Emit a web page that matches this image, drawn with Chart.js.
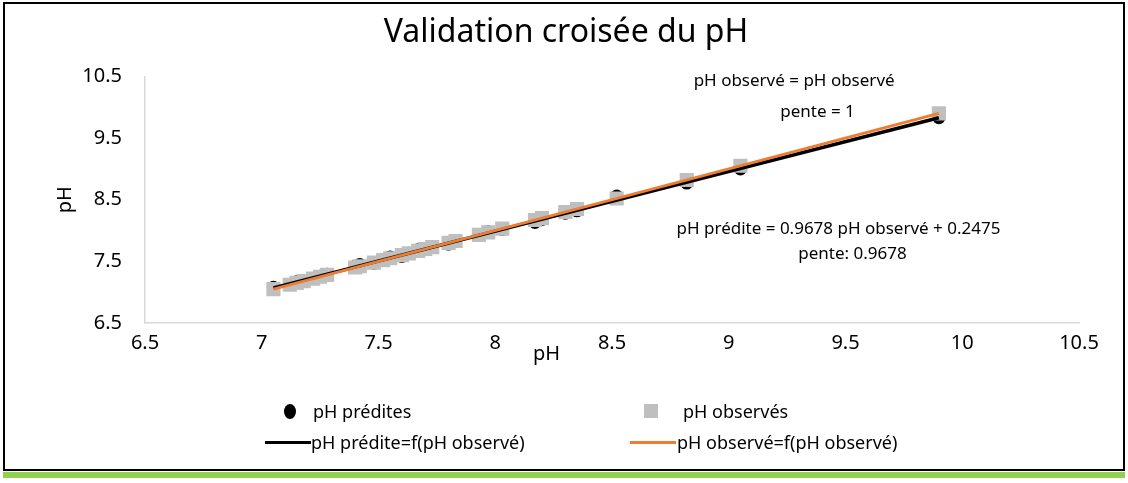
<!DOCTYPE html>
<html lang="fr">
  <head>
    <meta charset="UTF-8" />
    <title>Validation croisée du pH</title>
    <script src="https://cdn.jsdelivr.net/npm/chart.js"></script>
    <style>
      body { margin: 0; background: #fff; font-family: "Noto Sans", sans-serif; }
      .wrap { position: relative; width: 1128px; height: 483px; overflow: hidden; }
      #chart { position: absolute; left: 0; top: 0; }
      .frame { position: absolute; left: 3px; top: 2px; width: 1118px; height: 465px; border: 2px solid #000; pointer-events: none; }
      .green { position: absolute; left: 3px; top: 472px; width: 1122px; height: 6px; background: #92d050; }
      .leg { position: absolute; font-size: 18px; color: #000; white-space: nowrap; line-height: 20px; }
      .mk { position: absolute; }
    </style>
  </head>
  <body>
    <div class="wrap">
      <canvas id="chart" width="1128" height="483"></canvas>
      <div class="frame"></div>
      <div class="green"></div>

      <!-- legende 2x2 comme dans Excel -->
      <div class="mk" style="left:284px;top:404px;width:12px;height:15px;border-radius:50%;background:#000"></div>
      <div class="leg" style="left:313px;top:401px">pH prédites</div>
      <div class="mk" style="left:644px;top:404px;width:14px;height:14px;background:#bfbfbf"></div>
      <div class="leg" style="left:683px;top:401px">pH observés</div>
      <div class="mk" style="left:265px;top:441px;width:46px;height:3px;background:#000"></div>
      <div class="leg" style="left:311px;top:432px">pH prédite=f(pH observé)</div>
      <div class="mk" style="left:630px;top:441px;width:46px;height:3px;background:#ed7d31"></div>
      <div class="leg" style="left:677px;top:432px">pH observé=f(pH observé)</div>
    </div>

    <script>
      // valeurs
      const phObserve = [7.05, 7.12, 7.15, 7.18, 7.22, 7.25, 7.28, 7.40, 7.42, 7.48, 7.52,
        7.55, 7.60, 7.63, 7.67, 7.70, 7.73, 7.80, 7.83, 7.93, 7.97, 8.03, 8.17, 8.20,
        8.30, 8.35, 8.52, 8.82, 9.05, 9.90];
      const phPredit = [7.08, 7.13, 7.17, 7.19, 7.22, 7.26, 7.29, 7.42, 7.45, 7.47, 7.53,
        7.57, 7.58, 7.63, 7.69, 7.70, 7.74, 7.78, 7.82, 7.92, 7.98, 8.02, 8.13, 8.18,
        8.28, 8.32, 8.56, 8.77, 9.00, 9.83];
      // extrémités des droites de tendance
      const trendX = [7.05, 9.90];
      const trendPredit = [7.07, 9.83];
      const trendObserve = [7.05, 9.90];
      const xTicks = [6.5, 7, 7.5, 8, 8.5, 9, 9.5, 10, 10.5];
      const yTicks = [6.5, 7.5, 8.5, 9.5, 10.5];

      const toPts = (xs, ys) => xs.map((x, i) => ({ x: x, y: ys[i] }));

      const font = "'Noto Sans', sans-serif";

      // textes des équations + titre de l'axe x (placés en coordonnées des données)
      const annotations = {
        id: "annotations",
        afterDraw(chart) {
          const c = chart.ctx;
          const xs = chart.scales.x;
          const ys = chart.scales.y;
          c.save();
          c.fillStyle = "#000";
          c.textAlign = "center";
          c.textBaseline = "middle";
          c.font = "17px " + font;
          c.fillText("pH observé = pH observé", xs.getPixelForValue(9.28), ys.getPixelForValue(10.42));
          c.fillText("pente = 1", xs.getPixelForValue(9.38), ys.getPixelForValue(9.92));
          c.fillText("pH prédite = 0.9678 pH observé + 0.2475", xs.getPixelForValue(9.47), ys.getPixelForValue(8.03));
          c.fillText("pente: 0.9678", xs.getPixelForValue(9.53), ys.getPixelForValue(7.61));
          c.font = "20px " + font;
          c.fillText("pH", xs.getPixelForValue(8.22), ys.bottom + 31);
          c.restore();
        },
      };

      new Chart(document.getElementById("chart"), {
        type: "scatter",
        data: {
          datasets: [
            {
              label: "pH observé=f(pH observé)",
              type: "line",
              data: toPts(trendX, trendObserve),
              borderColor: "#ed7d31",
              borderWidth: 3,
              pointRadius: 0,
              order: 0,
            },
            {
              label: "pH prédite=f(pH observé)",
              type: "line",
              data: toPts(trendX, trendPredit),
              borderColor: "#000",
              borderWidth: 3.5,
              pointRadius: 0,
              order: 1,
            },
            {
              label: "pH observés",
              data: toPts(phObserve, phObserve),
              pointStyle: "rect",
              pointRadius: 10,
              backgroundColor: "#bfbfbf",
              borderWidth: 0,
              order: 2,
            },
            {
              label: "pH prédites",
              data: toPts(phObserve, phPredit),
              pointStyle: "circle",
              pointRadius: 6.5,
              backgroundColor: "#000",
              borderWidth: 0,
              order: 3,
            },
          ],
        },
        options: {
          responsive: false,
          animation: false,
          devicePixelRatio: 1,
          layout: { padding: { left: 53, right: 49, top: 0, bottom: 120 } },
          plugins: {
            legend: { display: false },
            tooltip: { enabled: false },
            title: {
              display: true,
              text: "Validation croisée du pH",
              color: "#000",
              font: { family: font, size: 32, weight: "normal" },
              padding: { top: 14, bottom: 24 },
            },
          },
          scales: {
            x: {
              type: "linear",
              min: 6.5,
              max: 10.5,
              afterBuildTicks: (s) => { s.ticks = xTicks.map((v) => ({ value: v })); },
              afterFit: (s) => { s.height = 40; },
              grid: { display: false },
              border: { display: true, color: "#d9d9d9", width: 1.5 },
              ticks: { color: "#000", padding: 0, font: { family: font, size: 20 }, callback: (v) => String(v) },
            },
            y: {
              type: "linear",
              min: 6.5,
              max: 10.5,
              afterBuildTicks: (s) => { s.ticks = yTicks.map((v) => ({ value: v })); },
              afterFit: (s) => { s.width = 92; },
              grid: { display: false },
              border: { display: true, color: "#d9d9d9", width: 1.5 },
              ticks: { color: "#000", padding: 15, font: { family: font, size: 20 }, callback: (v) => String(v) },
              title: {
                display: true,
                text: "pH",
                color: "#000",
                font: { family: font, size: 20 },
                padding: { top: 0, bottom: 0 },
              },
            },
          },
        },
        plugins: [annotations],
      });
    </script>
  </body>
</html>
